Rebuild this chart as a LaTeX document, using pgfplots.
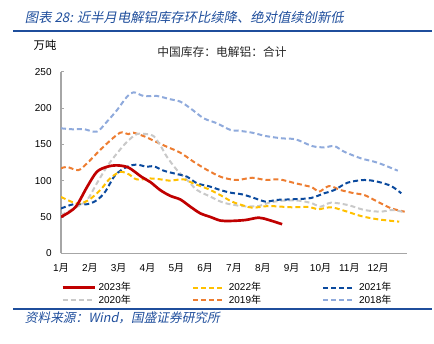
\documentclass[border=0pt]{standalone}
\usepackage{pgfplots}
\pgfplotsset{compat=1.18}
\usepackage{fontspec}
\setmainfont{Liberation Sans}
\newfontfamily\cjk{Noto Sans CJK SC}
\newfontfamily\cjkit[FakeSlant=0.2]{Noto Sans CJK SC}
\definecolor{ttblue}{HTML}{1F4E9C}
\definecolor{c23}{HTML}{C00000}
\definecolor{c22}{HTML}{FFC000}
\definecolor{c21}{HTML}{0B4A9E}
\definecolor{c20}{HTML}{C9C9C9}
\definecolor{c19}{HTML}{ED7D31}
\definecolor{c18}{HTML}{8FAADC}
\definecolor{axgray}{HTML}{A6A6A6}
\begin{document}
\begin{tikzpicture}
\path (0,0) rectangle (325.5pt,257.25pt);
\node[anchor=west,inner sep=0pt,text=ttblue,font=\fontsize{10}{12}\selectfont] at (18.5pt,244.5pt) {\cjkit 图表 \itshape 28: \cjkit 近半月电解铝库存环比续降、绝对值续创新低};
\draw[ttblue,line width=1pt] (9.75pt,234pt) -- (324pt,234pt);
\node[inner sep=0pt,font=\fontsize{8.5}{10}\selectfont] at (33.75pt,223pt) {\cjk 万吨};
\node[inner sep=0pt,font=\fontsize{8.8}{10}\selectfont,text=black!85] at (166.5pt,218.25pt) {\cjk 中国库存：电解铝：合计};
\draw[ttblue,line width=1pt] (9.75pt,25.5pt) -- (324pt,25.5pt);
\node[anchor=west,inner sep=0pt,text=ttblue,font=\fontsize{9.5}{11}\selectfont] at (18.5pt,18.75pt) {\cjkit 资料来源：\itshape Wind\cjkit ，国盛证券研究所};
\begin{axis}[
  at={(45.75pt,67.3pt)}, anchor=south west,
  scale only axis, width=259.5pt, height=136.2pt,
  xmin=1, xmax=13, ymin=0, ymax=250,
  ytick={0,50,...,250},
  xtick={1,...,12},
  xticklabels={1\cjk{月},2\cjk{月},3\cjk{月},4\cjk{月},5\cjk{月},6\cjk{月},7\cjk{月},8\cjk{月},9\cjk{月},10\cjk{月},11\cjk{月},12\cjk{月}},
  axis x line*=bottom, axis y line*=left,
  axis line style={axgray, line width=0.8pt, -},
  x tick style={draw=none},
  y tick style={axgray, line width=0.6pt},
  tick align=inside, major tick length=2.5pt,
  tick label style={font=\fontsize{7.5}{9}\selectfont},
  /pgf/number format/assume math mode=true,
  xticklabel style={yshift=-4pt},
  yticklabel style={xshift=-3.5pt},
  legend columns=3,
  legend style={at={(axis description cs:0.0,-0.145)}, anchor=north west, draw=none, fill=none, inner sep=0pt,
    font=\fontsize{7.5}{9}\selectfont, row sep=-2.5pt,
    /tikz/every even column/.append style={column sep=44pt}},
  legend image code/.code={\draw[#1] (0pt,0pt) -- (24pt,0pt);},
  every axis plot/.append style={line width=1.5pt, smooth, tension=0.5},
]
\addlegendimage{c23, line width=2pt, solid}
\addlegendentry{2023\cjk{年}}
\addlegendimage{c22, line width=1.5pt, dash pattern=on 3.75pt off 2.25pt}
\addlegendentry{2022\cjk{年}}
\addlegendimage{c21, line width=1.5pt, dash pattern=on 3.75pt off 2.25pt}
\addlegendentry{2021\cjk{年}}
\addlegendimage{c20, line width=1.5pt, dash pattern=on 3.75pt off 2.25pt}
\addlegendentry{2020\cjk{年}}
\addlegendimage{c19, line width=1.5pt, dash pattern=on 3.75pt off 2.25pt}
\addlegendentry{2019\cjk{年}}
\addlegendimage{c18, line width=1.5pt, dash pattern=on 3.75pt off 2.25pt}
\addlegendentry{2018\cjk{年}}
% 2018
\addplot[c18, dash pattern=on 3.75pt off 2.25pt, forget plot] coordinates {
(1,172)(1.43,170.6)(1.78,171)(2.24,167.4)(2.59,181)(2.94,197)(3.29,215.6)(3.52,221.6)(3.87,216.5)(4.33,216.5)(4.79,212)(5.14,208.7)(5.49,199.5)(5.95,185.8)(6.41,178.9)(6.88,169.7)(7.16,168.7)(7.63,166)(8.1,161.4)(8.67,158.2)(9.14,156.8)(9.71,147.6)(10.13,145.8)(10.48,147.6)(10.82,139.8)(11.4,130.7)(11.98,124.7)(12.68,113.7)};
% 2019
\addplot[c19, dash pattern=on 3.75pt off 2.25pt, forget plot] coordinates {
(1,116.7)(1.2,119)(1.6,114.4)(1.9,123.7)(2.24,137.5)(2.59,151)(3.05,166)(3.34,164)(3.51,166)(3.98,159.5)(4.21,155)(4.67,146.7)(5.14,138.4)(5.6,126)(6.07,114.6)(6.53,105.4)(6.88,101.8)(7.16,100.9)(7.63,104)(8.1,100.9)(8.56,101.8)(9.14,96.3)(9.71,90.8)(9.95,84.8)(10.3,92.6)(10.7,87)(11.17,82.6)(11.52,80.2)(11.98,71)(12.45,61.9)(12.92,57.2)};
% 2020
\addplot[c20, dash pattern=on 3.75pt off 2.25pt, forget plot] coordinates {
(1,52.4)(1.55,63.8)(1.9,73)(2.24,96)(2.59,119)(2.94,137.5)(3.29,153.5)(3.63,164)(3.98,164)(4.21,161.4)(4.44,149)(4.67,133)(5.02,114.6)(5.37,100.9)(5.72,87)(6.18,78)(6.64,69.6)(7.27,65)(7.86,65)(8.21,69.6)(8.67,72.4)(9.25,72.4)(9.71,68.8)(10,64.1)(10.36,69.6)(10.94,66.5)(11.52,59.6)(12.1,57.2)(12.45,59.6)(12.84,57.2)};
% 2021
\addplot[c21, dash pattern=on 3.75pt off 2.25pt, forget plot] coordinates {
(1,61.6)(1.43,67.5)(1.9,67.5)(2.24,73)(2.53,84.5)(2.88,107.5)(3.29,119)(3.63,122)(3.98,119)(4.21,120)(4.56,113.7)(5.02,109)(5.37,105.4)(5.72,96.3)(6.18,91.7)(6.53,87)(6.88,83.4)(7.27,81.2)(7.63,77)(8.1,71)(8.45,73.4)(9.02,74.3)(9.66,76)(10.13,82.6)(10.48,87)(10.94,97.2)(11.52,100.9)(11.98,98.5)(12.45,92.6)(12.8,82.6)};
% 2022
\addplot[c22, dash pattern=on 3.75pt off 2.25pt, forget plot] coordinates {
(1,77.6)(1.55,68.5)(1.95,73)(2.36,87)(2.7,103)(3.05,112)(3.34,109)(3.63,101.6)(4.1,103)(4.44,101.8)(4.79,100)(5.25,101.8)(5.6,96)(6.07,89)(6.53,80)(6.88,72)(7.16,67.8)(7.63,62.8)(8.21,65)(9.02,63.3)(9.6,64)(9.9,60.5)(10.36,63.3)(10.82,58.6)(11.4,51.3)(11.98,46.8)(12.73,43.5)};
% 2023
\addplot[c23, line width=2pt, forget plot] coordinates {
(1,50)(1.3,57)(1.55,66)(1.9,91)(2.24,112)(2.59,119)(2.94,121)(3.34,118)(3.8,105)(4.1,98)(4.44,87)(4.79,79)(5.14,74)(5.49,64)(5.83,55)(6.18,50)(6.53,45)(6.88,44.5)(7.4,45.8)(7.86,49)(8.21,45.8)(8.67,40)};
\end{axis}
\end{tikzpicture}
\end{document}
